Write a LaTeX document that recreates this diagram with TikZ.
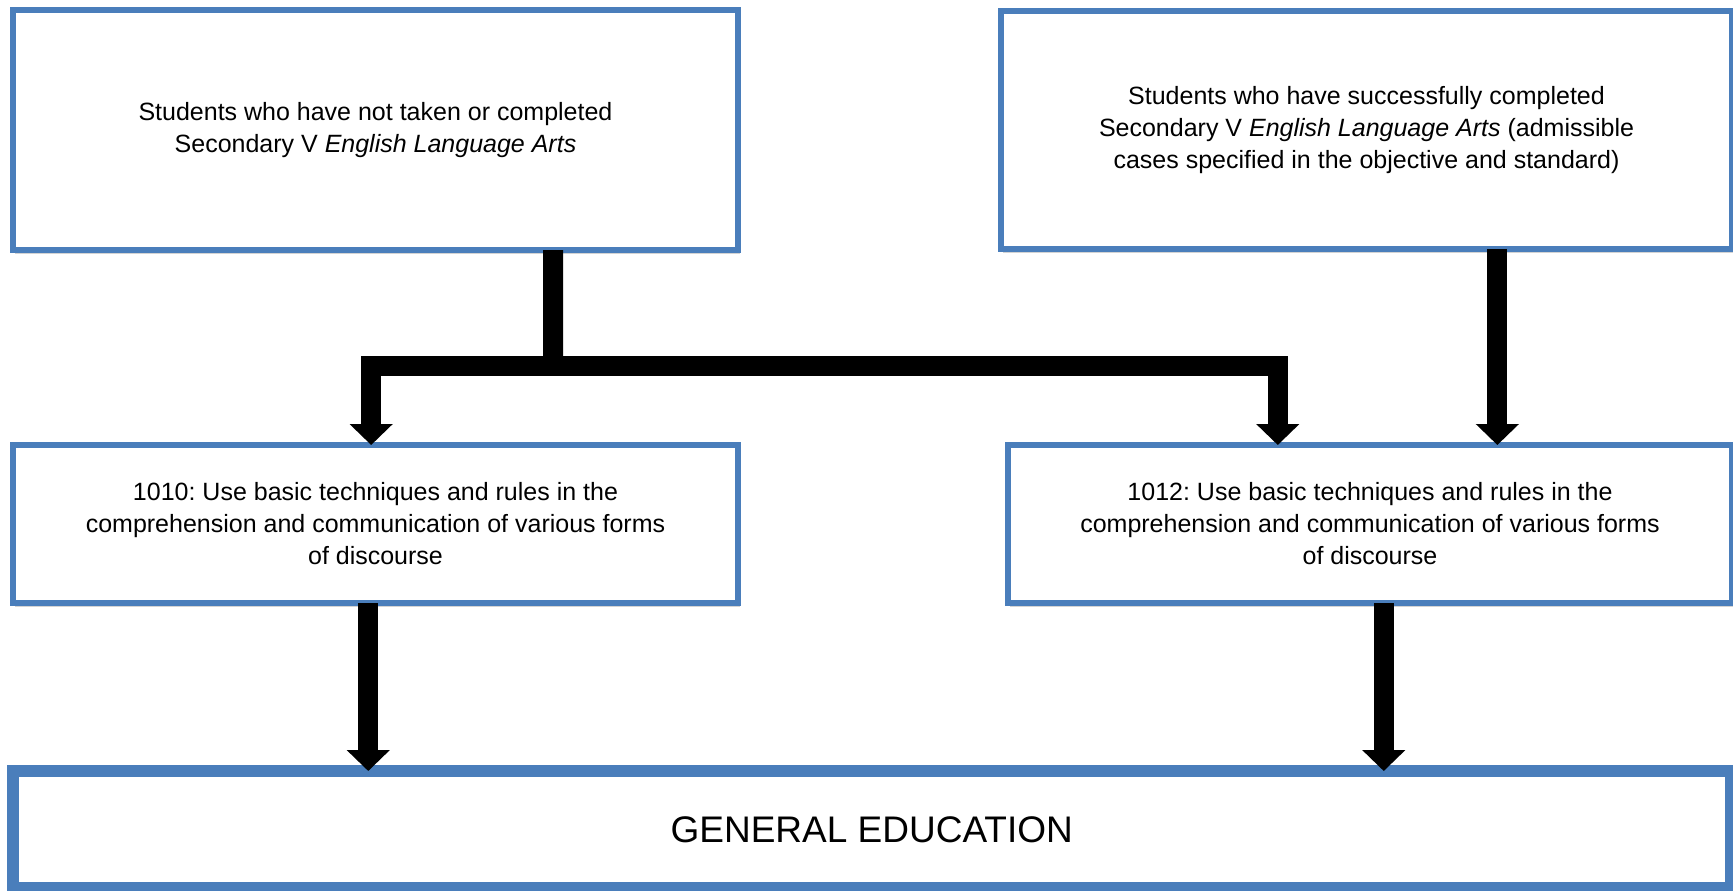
\documentclass[tikz,border=0pt]{standalone}
\usepackage{fontspec}
\setmainfont{Liberation Sans}
\usepackage{tikz}
\usetikzlibrary{arrows.meta,positioning,calc,shadows}
\usepackage{xcolor}
\definecolor{boxblue}{HTML}{4A7EBB}
\frenchspacing

\begin{document}
\begin{tikzpicture}[
    entry/.style={draw=boxblue, fill=white, rectangle, line width=3pt, outer sep=0pt, align=center, minimum width=362.5pt, minimum height=120.25pt, font=\fontsize{12.5pt}{16pt}\selectfont, drop shadow={shadow xshift=0.8pt, shadow yshift=-2pt, opacity=0.35}},
    course/.style={entry, minimum height=79pt},
    goal/.style={draw=boxblue, fill=white, rectangle, line width=6pt, outer sep=0pt, align=center, minimum width=858.75pt, minimum height=58.5pt, font=\fontsize{18.5pt}{22pt}\selectfont},
    bararrow/.style={line width=10pt, -{Triangle[width=21pt, length=10.5pt]}},
    bar/.style={line width=10pt}
  ]
    \useasboundingbox (0,0) rectangle (866.5pt,-445pt);

    \node (notdone) [entry] at (187.75pt,-64.875pt) {Students who have not taken or completed\\Secondary V \textit{English Language Arts}};
    \node (done) [entry, right=131.5pt of notdone, minimum width=365.5pt, minimum height=119pt] {Students who have successfully completed\\Secondary V \textit{English Language Arts} (admissible\\cases specified in the objective and standard)};

    \node (c1010) [course, below=97.5pt of notdone] {1010: Use basic techniques and rules in the\\comprehension and communication of various forms\\of discourse};
    \node (c1012) [course, right=135pt of c1010, minimum width=362pt] {1012: Use basic techniques and rules in the\\comprehension and communication of various forms\\of discourse};

    \node (gened) [goal, below=84pt of c1010.south west, anchor=north west] {GENERAL EDUCATION};

    % split from the left box
    \coordinate (notdoneout) at ($(notdone.south west)!0.745!(notdone.south east)$);
    \coordinate (in1010) at ($(c1010.north west)!0.494!(c1010.north east)$);
    \coordinate (in1012) at ($(c1012.north west)!0.3726!(c1012.north east)$);
    \coordinate (split) at ($(notdoneout)!0.595!(notdoneout |- in1010)$);
    \draw [bar] (notdoneout) -- (split);
    \draw [bararrow] ($(split)+(5pt,0)$) -| (in1010);
    \draw [bararrow] ($(split)-(5pt,0)$) -| (in1012);

    % straight arrows
    \coordinate (doneout) at ($(done.south west)!0.679!(done.south east)$);
    \draw [bararrow] (doneout) -- (doneout |- c1012.north);
    \coordinate (out1010) at ($(c1010.south west)!0.49!(c1010.south east)$);
    \coordinate (out1012) at ($(c1012.south west)!0.519!(c1012.south east)$);
    \draw [bararrow] (out1010) -- (out1010 |- gened.north);
    \draw [bararrow] (out1012) -- (out1012 |- gened.north);
  \end{tikzpicture}
\end{document}
